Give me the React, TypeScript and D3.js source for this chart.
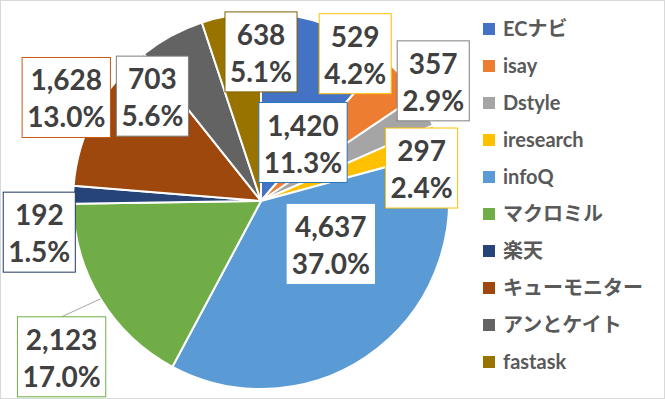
import React, { useEffect, useRef } from "react";
import * as d3 from "d3";

const categories = ["ECナビ", "isay", "Dstyle", "iresearch", "infoQ", "マクロミル", "楽天", "キューモニター", "アンとケイト", "fastask"];
const values = [1420, 529, 357, 297, 4637, 2123, 192, 1628, 703, 638];
const sliceColors = ["#4472C4", "#ED7D31", "#A5A5A5", "#FFC000", "#5B9BD5", "#70AD47", "#264478", "#9E480E", "#636363", "#997300"];
// label layout (angle in degrees clockwise from 12 o'clock, radius as fraction of pie radius)
const labelAngle = [35.7, 32.6, 55.1, 78.4, 121.6, 232, 262, 298, 314, 0];
const labelRadius = [0.383, 0.93, 1.117, 0.872, 0.436, 1.346, 1.191, 1.173, 0.803, 0.793];
const labelBorder = ["#2E75B6", "#FFC000", "#7F7F7F", "#FFC000", "none", "#70AD47", "#1F3864", "#C55A11", "#7F7F7F", "#7F6000"];
const labelLeader = [false, false, false, false, false, true, false, false, false, false];

const W = 665;
const H = 399;

export default function App() {
  const ref = useRef<SVGSVGElement>(null);
  useEffect(() => {
    const svg = d3.select(ref.current);
    svg.selectAll("*").remove();
    svg.append("rect").attr("x", 0.5).attr("y", 0.5).attr("width", W - 1).attr("height", H - 1)
      .attr("fill", "#fff").attr("stroke", "#D9D9D9");

    const cx = 261, cy = 201, r = 188;
    const total = d3.sum(values);
    const pie = d3.pie<number>().sort(null).value((d) => d);
    const arcs = pie(values);
    const arc = d3.arc<d3.PieArcDatum<number>>().innerRadius(0).outerRadius(r);
    const g = svg.append("g").attr("transform", `translate(${cx},${cy})`);
    g.selectAll("path.slice").data(arcs).enter().append("path")
      .attr("class", "slice")
      .attr("d", arc as any)
      .attr("fill", (_, i) => sliceColors[i])
      .attr("stroke", "#fff").attr("stroke-width", 2).attr("stroke-linejoin", "round");

    const fmt = d3.format(",");
    const pct = d3.format(".1%");
    const lg = g.append("g");
    arcs.forEach((a, i) => {
      const ang = (labelAngle[i] * Math.PI) / 180;
      const rr = labelRadius[i] * r;
      const lx = Math.sin(ang) * rr;
      const ly = -Math.cos(ang) * rr;
      const box = lg.append("g");
      const rect = box.append("rect");
      const t = box.append("text")
        .attr("font-family", "Lato, 'Noto Sans CJK JP', sans-serif")
        .attr("font-weight", 700).attr("font-size", 28).attr("fill", "#404040")
        .attr("text-anchor", "middle");
      t.append("tspan").attr("x", lx).attr("y", ly - 7).text(fmt(values[i]));
      t.append("tspan").attr("x", lx).attr("y", ly + 30).text(pct(values[i] / total));
      const bb = (t.node() as SVGTextElement).getBBox();
      const bw = bb.width + 10;
      const bh = 80;
      rect.attr("x", lx - bw / 2).attr("y", ly - bh / 2).attr("width", bw).attr("height", bh)
        .attr("fill", "#fff")
        .attr("stroke", labelBorder[i] === "none" ? "none" : labelBorder[i])
        .attr("stroke-width", 1);
      if (labelLeader[i]) {
        const mid = (a.startAngle + a.endAngle) / 2;
        lg.insert("line", ":first-child")
          .attr("x1", Math.sin(mid) * r).attr("y1", -Math.cos(mid) * r)
          .attr("x2", lx).attr("y2", ly - bh / 2)
          .attr("stroke", "#A6A6A6").attr("stroke-width", 1);
      }
    });

    const legendY = d3.scalePoint<string>().domain(categories).range([29, 362]);
    const leg = svg.append("g");
    categories.forEach((c, i) => {
      const y = legendY(c)!;
      leg.append("rect").attr("x", 483).attr("y", y - 6).attr("width", 12).attr("height", 12).attr("fill", sliceColors[i]);
      leg.append("text").attr("x", 503).attr("y", y).attr("dy", "0.36em")
        .attr("font-family", "Lato, 'Noto Sans CJK JP', sans-serif")
        .attr("font-weight", 700).attr("font-size", 20).attr("fill", "#595959")
        .text(c);
    });
  }, []);
  return (
    <svg ref={ref} width={W} height={H} style={{ position: "absolute", left: 0, top: 0, display: "block" }} />
  );
}
